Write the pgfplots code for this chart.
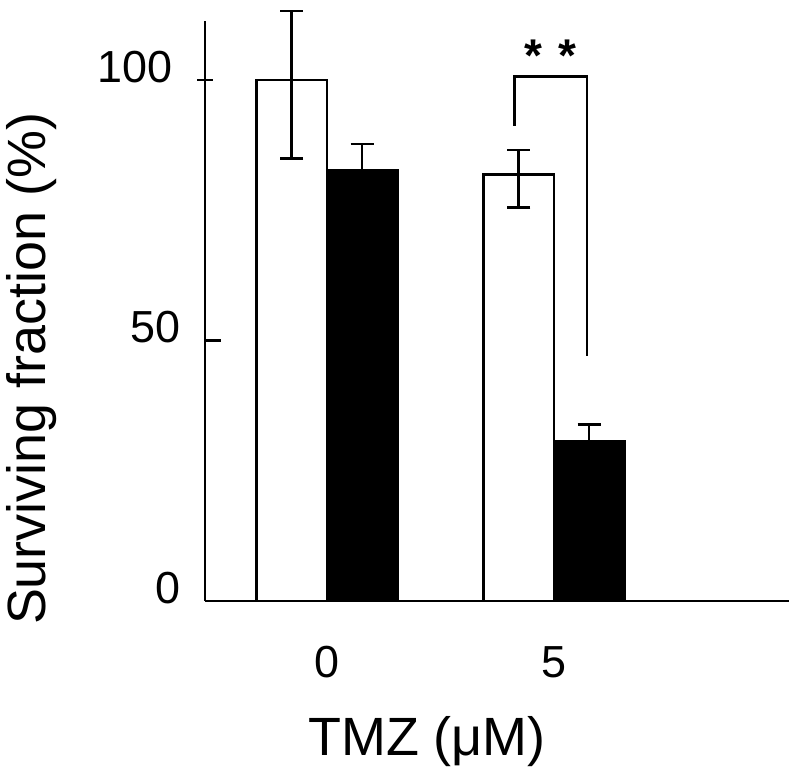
\documentclass[border=0pt]{standalone}
\usepackage{fontspec}
\setmainfont{Liberation Sans}
\usepackage{pgfplots}
\pgfplotsset{compat=1.18}
\begin{document}
\begin{tikzpicture}
\begin{axis}[
  at={(0,0)}, anchor=south west,
  scale only axis, width=292.5pt, height=290.5pt,
  xmin=-0.536, xmax=2.035, ymin=0, ymax=111.3,
  axis x line*=bottom, axis y line*=left,
  axis line style={line width=1.2pt, black},
  xtick={0,1}, xticklabels={0,5},
  x tick style={draw=none},
  ytick={0,50},
  extra y ticks={100},
  extra y tick style={tick align=center},
  y tick style={line width=1.2pt, black},
  tick align=inside,
  major tick length=8pt,
  /pgf/number format/assume math mode=true,
  ticklabel style={font=\fontsize{22.5}{27}\selectfont},
  xticklabel style={anchor=base, yshift=-30.5pt},
  yticklabel style={anchor=east, inner sep=0pt, xshift=-12pt, yshift=6.5pt},
  xlabel={TMZ (μM)},
  xlabel style={at={(axis description cs:0.38,0)}, anchor=base, yshift=-77.5pt, font=\fontsize{27}{32}\selectfont},
  ylabel={Surviving fraction (\%)},
  ylabel style={at={(axis description cs:-0.297,0.4)}, anchor=center, font=\fontsize{27}{32}\selectfont},
  clip=false,
  ybar, bar width=0.31,
]
\addplot[bar shift=0pt, fill=white, draw=black, line width=1.3pt,
  error bars/.cd, y dir=both, y explicit,
  error bar style={line width=1.3pt, black},
  error mark options={rotate=90, mark size=5.75pt, line width=1.3pt, black}]
  coordinates {(-0.155,100) += (0,13.2) -= (0,15.1) (0.845,81.8) += (0,4.7) -= (0,6.3)};
\addplot[bar shift=0pt, fill=black, draw=black, line width=1.3pt,
  error bars/.cd, y dir=plus, y explicit,
  error bar style={line width=1.3pt, black},
  error mark options={rotate=90, mark size=5.75pt, line width=1.3pt, black}]
  coordinates {(0.155,82.6) +- (0,5.1) (1.155,30.7) +- (0,3.1)};
\draw[line width=1.3pt] (axis cs:0.825,91.2) -- (axis cs:0.825,100.6) -- (axis cs:1.146,100.6) -- (axis cs:1.146,47);
\node[font=\fontsize{23}{25}\selectfont\bfseries] at (axis cs:0.91,104.6) {*};
\node[font=\fontsize{23}{25}\selectfont\bfseries] at (axis cs:1.06,104.6) {*};
\end{axis}
\path (-102pt,-89pt) rectangle (298pt,301pt);
\end{tikzpicture}
\end{document}
